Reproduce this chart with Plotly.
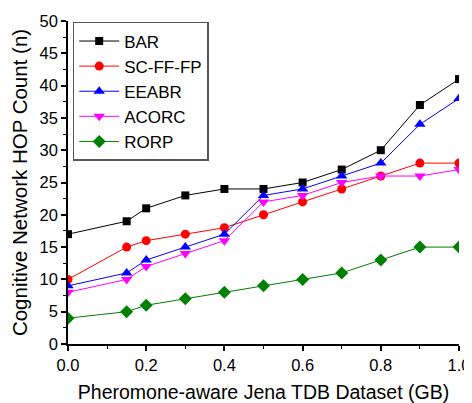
import plotly.graph_objects as go

x_vals = [0.0, 0.15, 0.2, 0.3, 0.4, 0.5, 0.6, 0.7, 0.8, 0.9, 1.0]
bar = [17, 19, 21, 23, 24, 24, 25, 27, 30, 37, 41]
sc_ff_fp = [10, 15, 16, 17, 18, 20, 22, 24, 26, 28, 28]
eeabr = [9, 11, 13, 15, 17, 23, 24, 26, 28, 34, 38]
acorc = [8, 10, 12, 14, 16, 22, 23, 25, 26, 26, 27]
rorp = [4, 5, 6, 7, 8, 9, 10, 11, 13, 15, 15]

series = [
    ("BAR", bar, "black", "square", 8),
    ("SC-FF-FP", sc_ff_fp, "red", "circle", 9),
    ("EEABR", eeabr, "blue", "triangle-up", 10),
    ("ACORC", acorc, "magenta", "triangle-down", 10),
    ("RORP", rorp, "green", "diamond", 10),
]

FONT = "Liberation Sans"

fig = go.Figure()
for name, ys, color, sym, sz in series:
    fig.add_trace(go.Scatter(
        x=x_vals, y=ys, name=name, mode="lines+markers",
        line=dict(color=color, width=1),
        marker=dict(color=color, symbol=sym, size=sz),
    ))

axis_common = dict(
    showgrid=False, zeroline=False, showline=True, linecolor="black", linewidth=1.5,
    ticks="outside", ticklen=5, tickwidth=1.5, tickcolor="black",
    tickfont=dict(family=FONT, size=16.5, color="black"),
    automargin=False,
)

fig.update_xaxes(
    range=[0, 1.0], dtick=0.2, tickformat=".1f",
    minor=dict(ticks="outside", dtick=0.1, ticklen=3, tickwidth=1.2, tickcolor="black"),
    title_text="Pheromone-aware Jena TDB Dataset (GB)", title_standoff=13,
    title_font=dict(family=FONT, size=19.5, color="black"),
    **axis_common,
)
fig.update_yaxes(
    range=[0, 50], dtick=5,
    minor=dict(ticks="outside", dtick=2.5, ticklen=3, tickwidth=1.2, tickcolor="black"),
    title_text="Cognitive Network HOP Count (n)", title_standoff=7,
    title_font=dict(family=FONT, size=20.5, color="black"),
    **axis_common,
)

# page body adds an 8px offset; figure sized so the plot area lands where the reference has it
fig.update_layout(
    width=464, height=395,
    margin=dict(l=60, r=13, t=13, b=59),
    plot_bgcolor="white", paper_bgcolor="white",
    font=dict(family=FONT, size=17, color="black"),
    legend=dict(
        x=0.012, y=0.997, xanchor="left", yanchor="top",
        bgcolor="white", bordercolor="#555555", borderwidth=1.5,
        font=dict(size=17, family=FONT),
        itemwidth=40, tracegroupgap=0,
    ),
)

fig.write_html("out.html")
